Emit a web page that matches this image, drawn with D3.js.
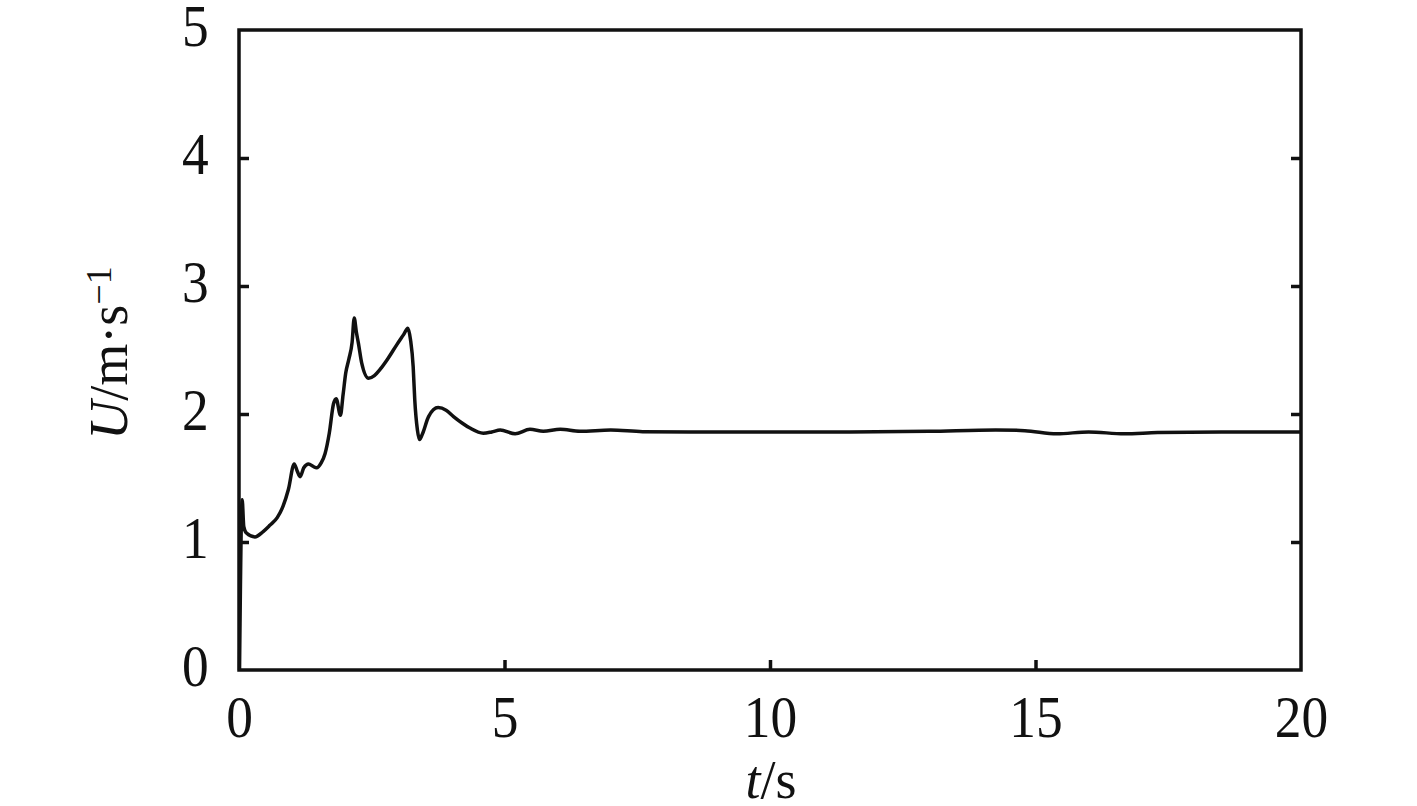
<!DOCTYPE html>
<html>
<head>
<meta charset="utf-8">
<script src="https://cdn.jsdelivr.net/npm/d3@7"></script>
<style>
  body { margin: 0; background: #fff; }
  text { font-family: "Liberation Serif", "Times New Roman", serif; fill: #111; }
</style>
</head>
<body>
<div id="chart"></div>
<script>
// time (s) and speed U (m/s)
var timeS = [0.01, 0.06, 0.09, 0.14, 0.30, 0.45, 0.58, 0.72, 0.83, 0.93, 1.04, 1.10, 1.15, 1.22, 1.31,
  1.40, 1.46, 1.55, 1.62, 1.70, 1.78, 1.83, 1.91, 1.96, 2.01, 2.07, 2.13, 2.17, 2.21, 2.25, 2.31, 2.44,
  2.55, 2.66, 2.80, 2.97, 3.10, 3.18, 3.23, 3.28, 3.31, 3.36, 3.40, 3.46, 3.57, 3.75, 3.90, 4.04, 4.20,
  4.35, 4.60, 4.76, 4.92, 5.20, 5.48, 5.73, 6.05, 6.42, 7.0, 7.6, 8.5, 10, 11.5, 13, 14.25, 14.8,
  15.4, 16.0, 16.67, 17.3, 18.5, 20];
var speedU = [0, 1.33, 1.12, 1.07, 1.04, 1.08, 1.13, 1.19, 1.28, 1.41, 1.61, 1.55, 1.51, 1.58, 1.61,
  1.59, 1.58, 1.62, 1.69, 1.85, 2.08, 2.12, 1.99, 2.15, 2.32, 2.43, 2.56, 2.75, 2.64, 2.55, 2.40, 2.28,
  2.30, 2.35, 2.43, 2.54, 2.62, 2.67, 2.58, 2.37, 2.11, 1.875, 1.80, 1.85, 1.98, 2.05, 2.03, 1.98, 1.93,
  1.89, 1.85, 1.86, 1.875, 1.845, 1.88, 1.865, 1.88, 1.865, 1.875, 1.862, 1.86, 1.86, 1.86, 1.865, 1.875, 1.87,
  1.845, 1.86, 1.845, 1.855, 1.86, 1.86];
var xTicks = [0, 5, 10, 15, 20];
var yTicks = [0, 1, 2, 3, 4, 5];

var margin = { top: 30, right: 116, bottom: 136, left: 239 };
var width = 1417 - margin.left - margin.right,
    height = 806 - margin.top - margin.bottom;

var svg = d3.select("#chart").append("svg")
    .attr("width", 1417)
    .attr("height", 806)
  .append("g")
    .attr("transform", "translate(" + margin.left + "," + margin.top + ")");

var x = d3.scaleLinear().domain([0, 20]).range([0, width]);
var y = d3.scaleLinear().domain([0, 5]).range([height, 0]);

var data = timeS.map(function(t, i) { return { t: t, u: speedU[i] }; });

// axes, ticks pointing inward
var xAxis = d3.axisBottom(x).tickValues(xTicks).tickFormat(d3.format("d"))
    .tickSizeInner(-10).tickSizeOuter(0).tickPadding(24);
var yAxis = d3.axisLeft(y).tickValues(yTicks).tickFormat(d3.format("d"))
    .tickSizeInner(-10).tickSizeOuter(0).tickPadding(34);
var yAxisR = d3.axisRight(y).tickValues([1, 2, 3, 4]).tickSizeInner(-10).tickSizeOuter(0).tickFormat("");

var gx = svg.append("g").attr("transform", "translate(0," + height + ")").call(xAxis);
var gy = svg.append("g").call(yAxis);
var gyr = svg.append("g").attr("transform", "translate(" + width + ",0)").call(yAxisR);

[gx, gy, gyr].forEach(function(g) {
  g.select(".domain").remove();
  g.selectAll(".tick line").attr("stroke", "#111").attr("stroke-width", 3.5);
  g.selectAll(".tick text")
      .attr("font-size", 60)
      .attr("fill", "#111")
      .attr("transform", "scale(0.89,1)");
});
gy.selectAll(".tick text").attr("dy", "0.25em");
// hide ticks that sit on the frame
gx.selectAll(".tick line").filter(function(d) { return d === 0 || d === 20; }).remove();
gy.selectAll(".tick line").filter(function(d) { return d === 0 || d === 5; }).remove();

// frame
svg.append("rect")
    .attr("x", 0).attr("y", 0)
    .attr("width", width).attr("height", height)
    .attr("fill", "none")
    .attr("stroke", "#111")
    .attr("stroke-width", 3.5);

// curve
var line = d3.line()
    .x(function(d) { return x(d.t); })
    .y(function(d) { return y(d.u); })
    .curve(d3.curveMonotoneX);

svg.append("path")
    .datum(data)
    .attr("d", line)
    .attr("fill", "none")
    .attr("stroke", "#111")
    .attr("stroke-width", 3.5)
    .attr("stroke-linejoin", "round");

// axis labels
var xl = svg.append("text")
    .attr("x", x(10) + 1)
    .attr("y", 798 - margin.top)
    .attr("text-anchor", "middle")
    .attr("font-size", 54);
xl.append("tspan").attr("font-style", "italic").text("t");
xl.append("tspan").text("/s");

var yl = svg.append("text")
    .attr("transform", "translate(" + (127 - margin.left) + "," + (353 - margin.top) + ") rotate(-90)")
    .attr("text-anchor", "middle")
    .attr("font-size", 54);
yl.append("tspan").attr("font-style", "italic").text("U");
yl.append("tspan").text("/m·s");
yl.append("tspan").attr("font-size", 36).attr("dy", -16).text("−1");
</script>
</body>
</html>
